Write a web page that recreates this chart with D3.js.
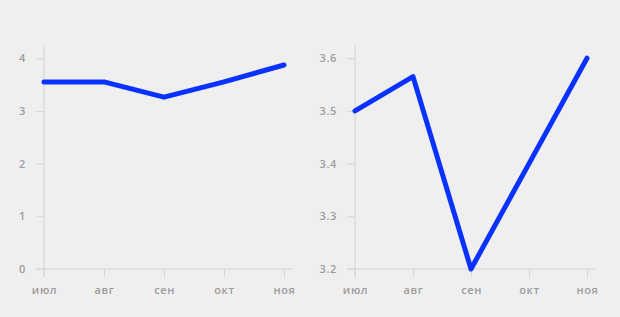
<!DOCTYPE html>
<html>
<head>
<meta charset="utf-8">
<script src="https://cdn.jsdelivr.net/npm/d3@7"></script>
<style>
  body { margin: 0; background: #efefef; }
  svg { display: block; }
  .axis text { fill: #9c9c9c; font-family: "Open Sans", Lato, sans-serif; font-size: 11px; font-weight: 600; letter-spacing: 0.6px; }
  .axis path, .axis line { stroke: #d4d4d4; }
</style>
</head>
<body>
<script>
const months = ["июл", "авг", "сен", "окт", "ноя"];
const leftValues = [3.55, 3.55, 3.26, 3.55, 3.87];
const rightValues = [3.5, 3.565, 3.2, 3.4, 3.6];
const leftTicks = [0, 1, 2, 3, 4];
const rightTicks = [3.2, 3.3, 3.4, 3.5, 3.6];

const w = 620, h = 317;
const svg = d3.select("body").append("svg").attr("width", w).attr("height", h);

function drawPanel(x0, width, values, domain, ticks, fmt) {
  const x = d3.scalePoint().domain(months).range([x0, x0 + width]);
  const y = d3.scaleLinear().domain(domain).range([269, 45]);
  const g = svg.append("g");

  // x axis: line from tick-start to past last point
  const gx = g.append("g").attr("class", "axis").attr("transform", "translate(0,269)")
    .call(d3.axisBottom(x).tickSize(8).tickSizeOuter(0).tickPadding(9));
  gx.select(".domain").remove();
  gx.append("line").attr("x1", x0 - 8).attr("x2", x0 + width + 9).attr("y1", 0).attr("y2", 0);

  const gy = g.append("g").attr("class", "axis").attr("transform", `translate(${x0},0)`)
    .call(d3.axisLeft(y).tickValues(ticks).tickFormat(fmt).tickSize(8).tickPadding(10));
  gy.select(".domain").remove();
  gy.append("line").attr("x1", 0).attr("x2", 0).attr("y1", 45).attr("y2", 277);

  const line = d3.line().x((d, i) => x(months[i])).y(d => y(d));
  g.append("path").datum(values)
    .attr("d", line)
    .attr("fill", "none")
    .attr("stroke", "#0a32ff")
    .attr("stroke-width", 5)
    .attr("stroke-linejoin", "round")
    .attr("stroke-linecap", "round");
}

drawPanel(44, 240, leftValues, [0, 4.25], leftTicks, d3.format("d"));
drawPanel(355, 232, rightValues, [3.2, 3.625], rightTicks, d3.format(".1f"));
</script>
</body>
</html>
